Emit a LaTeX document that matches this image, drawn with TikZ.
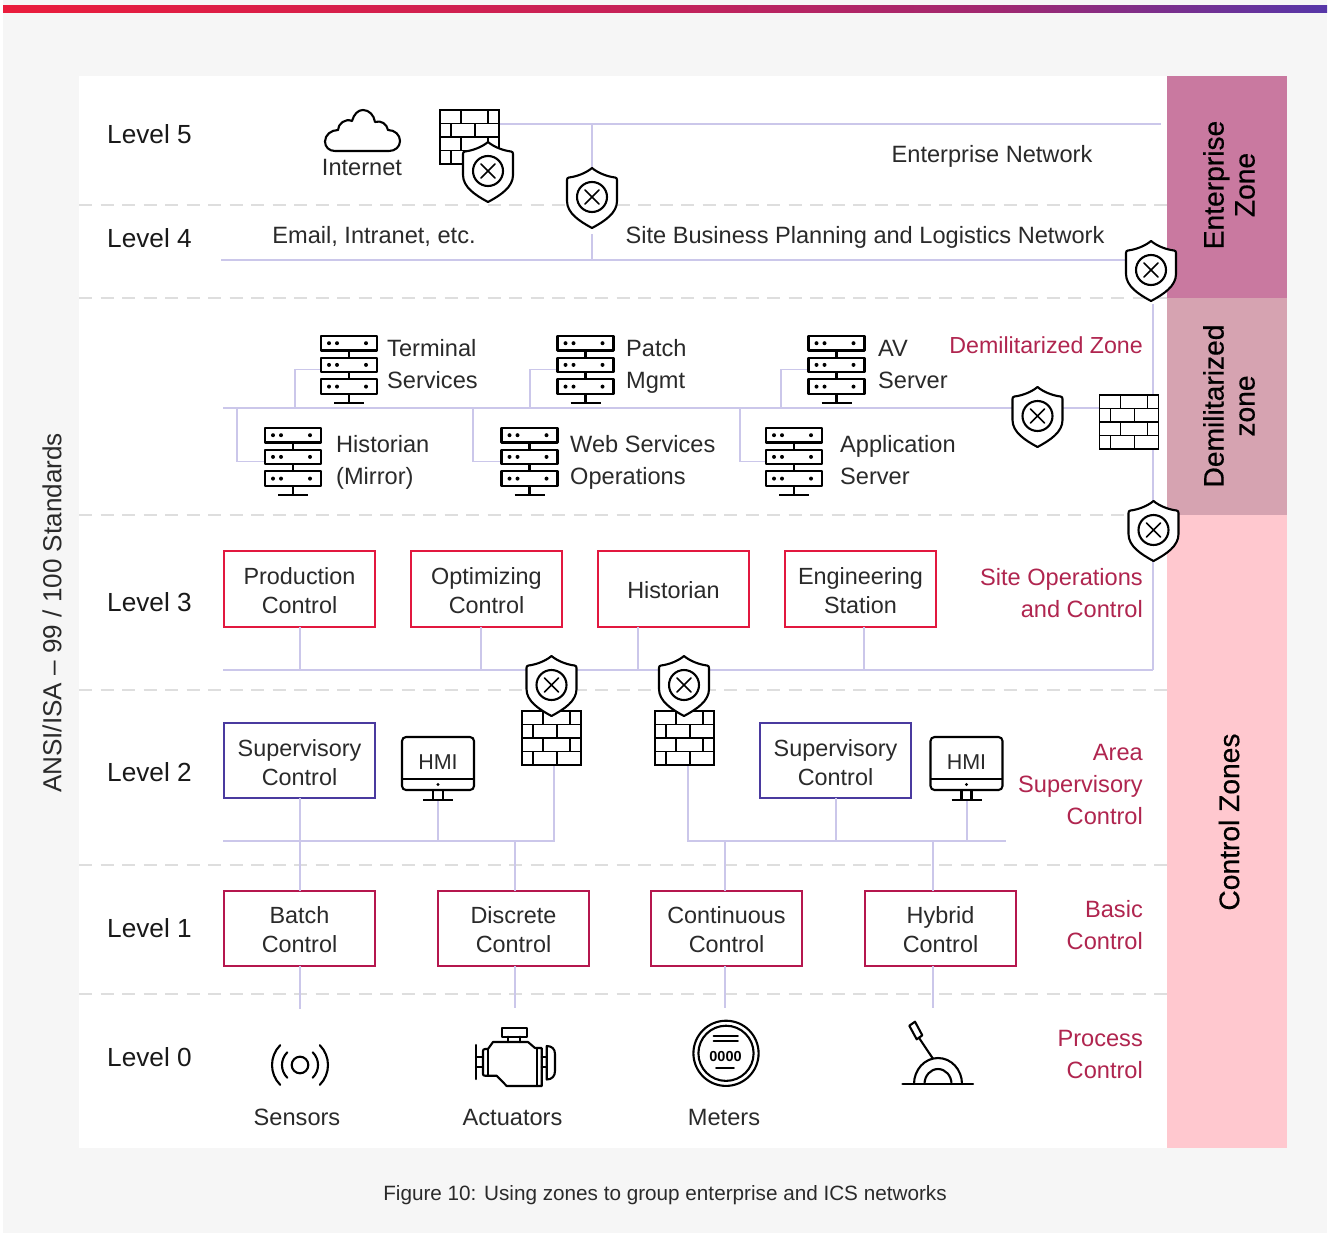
\documentclass[tikz,border=0pt]{standalone}
\usepackage{fontspec}
\setmainfont{Liberation Sans}
\usetikzlibrary{calc}
\definecolor{pagebg}{HTML}{F6F6F6}
\definecolor{netline}{HTML}{CBC7EA}
\definecolor{dashline}{HTML}{DEDEDE}
\definecolor{redbox}{HTML}{E2183F}
\definecolor{purplebox}{HTML}{4A3A9F}
\definecolor{magbox}{HTML}{B5174E}
\definecolor{redtext}{HTML}{B0254F}
\definecolor{inktext}{HTML}{2A2A2A}
\definecolor{zoneA}{HTML}{C979A0}
\definecolor{zoneB}{HTML}{D6A3B1}
\definecolor{zoneC}{HTML}{FFC8CF}
\definecolor{barA}{HTML}{EA1C3C}
\definecolor{barB}{HTML}{C4225A}
\definecolor{barC}{HTML}{A02870}
\definecolor{barD}{HTML}{5636A8}
\pgfdeclarehorizontalshading{topbar}{100bp}{color(0bp)=(barA);color(25bp)=(barA);color(50bp)=(barB);color(62.5bp)=(barC);color(75bp)=(barD);color(100bp)=(barD)}
\newcommand{\bodyfont}{\fontsize{23.6}{32}\selectfont}
\newcommand{\boxfont}{\fontsize{23.4}{29}\selectfont}
\newcommand{\lowerA}{\rule{0pt}{19.6pt}}
\newcommand{\lowerB}{\rule{0pt}{21pt}}
\tikzset{
  x=1pt,y=-1pt,
  net/.style={draw=netline,line width=1.4pt},
  zonedash/.style={draw=dashline,line width=1.4pt,dash pattern=on 13pt off 8.5pt},
  icon/.style={draw=black,fill=white,line width=2.1pt,line join=round},
  iconline/.style={draw=black,line width=2.1pt,line join=round,line cap=round},
  iconthin/.style={draw=black,line width=1.7pt,line join=round,line cap=round},
  wallstroke/.style={draw=black,line width=1.9pt},
  shieldslot/.style={inner sep=0pt,outer sep=0pt,minimum width=50pt,minimum height=60pt},
  wallslot/.style={inner sep=0pt,outer sep=0pt,minimum width=59pt,minimum height=54pt},
  serverslot/.style={inner sep=0pt,outer sep=0pt,minimum width=56pt,minimum height=67pt},
  hmislot/.style={inner sep=0pt,outer sep=0pt,minimum width=73pt,minimum height=63pt},
  ctlbox/.style={draw=#1,fill=white,line width=2pt,minimum width=151pt,minimum height=75pt,inner sep=0pt,align=center,font=\boxfont,text=inktext},
  levellabel/.style={anchor=west,inner sep=0pt,font=\fontsize{26.2}{30}\selectfont,text=black!90},
  plain/.style={inner sep=0pt,font=\bodyfont,text=inktext},
  plainleft/.style={plain,anchor=west,align=left},
  zonelabel/.style={inner sep=0pt,rotate=90,align=center,font=\fontsize{28.2}{31}\selectfont\addfontfeature{FakeBold=0.5},text=black},
  redlabel/.style={anchor=east,inner sep=0pt,align=right,font=\bodyfont,text=redtext},
  shieldicon/.pic={
    \path[icon] (0,-30) .. controls (-6,-25) and (-15,-21.5) .. (-23,-20.5)
      .. controls (-24.5,-20.3) and (-25,-19.5) .. (-25,-18) -- (-25,3)
      .. controls (-25,15) and (-13,23) .. (0,30)
      .. controls (13,23) and (25,15) .. (25,3) -- (25,-18)
      .. controls (25,-19.5) and (24.5,-20.3) .. (23,-20.5)
      .. controls (15,-21.5) and (6,-25) .. (0,-30) -- cycle;
    \draw[iconline] (0,-1) circle[radius=15];
    \draw[iconthin] (-7,-8) -- (7,6) (-7,6) -- (7,-8);
  },
  wallicon/.pic={
    \path[wallstroke,fill=white] (-29.5,-27) rectangle (29.5,27);
    \draw[wallstroke]
      (-29.5,-13.5) -- (29.5,-13.5) (-29.5,0) -- (29.5,0) (-29.5,13.5) -- (29.5,13.5)
      (-8.5,-27) -- (-8.5,-13.5) (18.5,-27) -- (18.5,-13.5)
      (-18.5,-13.5) -- (-18.5,0) (5.5,-13.5) -- (5.5,0)
      (-8.5,0) -- (-8.5,13.5) (18.5,0) -- (18.5,13.5)
      (-18.5,13.5) -- (-18.5,27) (5.5,13.5) -- (5.5,27);
  },
  servericon/.pic={
    \foreach \yy in {-33.5,-11.8,9.9}{
      \path[icon] (-28,\yy) rectangle (28,\yy+14.5);
      \fill[black] (-20,\yy+7.2) circle[radius=2] (-12,\yy+7.2) circle[radius=2] (17,\yy+7.2) circle[radius=2];
    }
    \draw[iconline,line cap=butt] (0,-19) -- (0,-11.8) (0,2.7) -- (0,9.9) (0,24.4) -- (0,33.5) (-15,33.5) -- (15,33.5);
  },
  hmiicon/.pic={
    \path[icon,rounded corners=4pt] (-36,-31) rectangle (36,22);
    \draw[iconline,line cap=butt] (-36,11) -- (36,11) (-5,22) -- (-5,32) (5,22) -- (5,32) (-15,32) -- (15,32);
    \fill[black] (0,16.5) circle[radius=1.7];
    \node[inner sep=0pt,font=\fontsize{21.5}{24}\selectfont,text=inktext] at (0,-6) {HMI};
  }
}
\begin{document}
\begin{tikzpicture}
\useasboundingbox (0,0) rectangle (1329,1236);
\fill[white] (0,0) rectangle (1329,1236);
\fill[pagebg] (3,0) rectangle (1327,1233);
\shade[shading=topbar] (3,6) rectangle (1327,13);
\fill[white] (79,76) rectangle (1167,1148);
\fill[zoneA] (1167,76) rectangle (1287,298);
\fill[zoneB] (1167,298) rectangle (1287,515);
\fill[zoneC] (1167,515) rectangle (1287,1148);
% dashed zone borders
\foreach \yy in {205,298,515,690,865,994}{
  \draw[zonedash] (79,\yy) -- (1167,\yy);
}
% icon slots
\node[wallslot] (wallA) at (469.5,137) {};
\node[shieldslot] (shA) at (488,172) {};
\node[shieldslot] (shB) at (592,198) {};
\node[shieldslot] (shC) at (1151,271) {};
\node[shieldslot] (shD) at (1037.5,417) {};
\node[wallslot] (wallB) at (1129,422) {};
\node[shieldslot] (shE) at (1153.5,531) {};
\node[shieldslot] (shF) at (551.5,686) {};
\node[shieldslot] (shG) at (684,686) {};
\node[wallslot] (wallC) at (551.5,738) {};
\node[wallslot] (wallD) at (684.5,738) {};
\node[serverslot] (srvT) at (349,369.5) {};
\node[serverslot] (srvH) at (293,461.5) {};
\node[serverslot] (srvP) at (585.5,369.5) {};
\node[serverslot] (srvW) at (529.5,461.5) {};
\node[serverslot] (srvV) at (836.5,369.5) {};
\node[serverslot] (srvA) at (794,461.5) {};
\node[hmislot] (hmiA) at (438,768) {};
\node[hmislot] (hmiB) at (966.5,768) {};
% control boxes
\node[ctlbox=redbox,minimum height=76pt] (prod) at (299.5,589) {\lowerA Production\\Control};
\node[ctlbox=redbox,minimum height=76pt] (opt) at (486.5,589) {\lowerA Optimizing\\Control};
\node[ctlbox=redbox,minimum height=76pt] (hist) at (673.5,589) {\lowerA Historian};
\node[ctlbox=redbox,minimum height=76pt] (eng) at (860.5,589) {\lowerA Engineering\\Station};
\node[ctlbox=purplebox] (supA) at (299.5,760.5) {\lowerB Supervisory\\Control};
\node[ctlbox=purplebox] (supB) at (835.5,760.5) {\lowerB Supervisory\\Control};
\node[ctlbox=magbox] (batch) at (299.5,928.5) {\lowerA Batch\\Control};
\node[ctlbox=magbox] (disc) at (513.5,928.5) {\lowerA Discrete\\Control};
\node[ctlbox=magbox] (cont) at (726.5,928.5) {\lowerA Continuous\\Control};
\node[ctlbox=magbox] (hyb) at (940.5,928.5) {\lowerA Hybrid\\Control};
% network end points
\coordinate (entEnd) at (1161,124);
\coordinate (entTap) at (592,124);
\coordinate (siteStart) at (221,260);
\coordinate (siteTap) at (592,260);
\coordinate (siteBelow) at (592,234);
\coordinate (dmzStart) at (223,408);
\coordinate (dmzRiserTop) at (1153,304);
\coordinate (lvlThreeStart) at (223,670);
\coordinate (lvlThreeEnd) at (1153,670);
\coordinate (lvlTwoStart) at (223,841);
\coordinate (lvlTwoEnd) at (1006,841);
% enterprise and site networks
\draw[net] (wallA.east |- entTap) -- (entEnd);
\draw[net] (entTap) -- (shB.north);
\draw[net] (siteBelow) -- (siteTap);
\draw[net] (siteStart) -- (shC.west |- siteStart);
% DMZ
\draw[net] (dmzStart) -- (shD.west |- dmzStart);
\draw[net] (shD.east |- dmzStart) -- (wallB.west |- dmzStart);
\draw[net] (295,408) |- (srvT.west);
\draw[net] (237,408) |- (srvH.west);
\draw[net] (530,408) |- (srvP.west);
\draw[net] (473,408) |- (srvW.west);
\draw[net] (781,408) |- (srvV.west);
\draw[net] (740,408) |- (srvA.west);
\draw[net] (dmzRiserTop) -- (lvlThreeEnd);
% level 3 bus
\draw[net] (lvlThreeStart) -- (lvlThreeEnd);
\draw[net] (300,627) -- (300,670);
\draw[net] (481,627) -- (481,670);
\draw[net] (638,627) -- (638,670);
\draw[net] (864,627) -- (864,670);
% level 2 bus
\draw[net] (lvlTwoStart) -- (554,841) -- (554,765);
\draw[net] (688,765) -- (688,841) -- (lvlTwoEnd);
\draw[net] (hmiA.south) -- (hmiA.south |- lvlTwoStart);
\draw[net] (967,799) -- (967,841);
\draw[net] (836,798) -- (836,841);
\draw[net] (300,798) -- (300,891);
\draw[net] (515,841) -- (515,891);
\draw[net] (725,841) -- (725,891);
\draw[net] (933,841) -- (933,891);
% level 1 to level 0
\draw[net] (300,966) -- (300,1009);
\draw[net] (515,966) -- (515,1008);
\draw[net] (725,966) -- (725,1008);
\draw[net] (933,966) -- (933,1008);
% icons
\pic at (wallA) {wallicon};
\pic at (shA) {shieldicon};
\pic at (shB) {shieldicon};
\pic at (shC) {shieldicon};
\pic at (shD) {shieldicon};
\pic at (wallB) {wallicon};
\pic at (shE) {shieldicon};
\pic at (wallC) {wallicon};
\pic at (wallD) {wallicon};
\pic at (shF) {shieldicon};
\pic at (shG) {shieldicon};
\pic at (srvT) {servericon};
\pic at (srvH) {servericon};
\pic at (srvP) {servericon};
\pic at (srvW) {servericon};
\pic at (srvV) {servericon};
\pic at (srvA) {servericon};
\pic at (hmiA) {hmiicon};
\pic at (hmiB) {hmiicon};
% cloud
\draw[iconline] (335,151) .. controls (329,151) and (325,147) .. (325,141.5)
  .. controls (325,135) and (331,130) .. (338,130)
  .. controls (338,124) and (345,118) .. (352,121)
  .. controls (354,114) and (358,110) .. (363,110)
  .. controls (369,110) and (374,115) .. (375,122)
  .. controls (381,120) and (387,124) .. (388,130)
  .. controls (395,130) and (400,135) .. (400,141)
  .. controls (400,147) and (395,151) .. (389,151) -- cycle;
% sensor
\draw[iconline] (300,1065) circle[radius=8.3];
\draw[iconline] (312.7,1052.3) .. controls (319.8,1059.3) and (319.8,1070.7) .. (312.7,1077.7);
\draw[iconline] (287.3,1052.3) .. controls (280.2,1059.3) and (280.2,1070.7) .. (287.3,1077.7);
\draw[iconline] (319.8,1045.2) .. controls (330.7,1056.1) and (330.7,1073.9) .. (319.8,1084.8);
\draw[iconline] (280.2,1045.2) .. controls (269.3,1056.1) and (269.3,1073.9) .. (280.2,1084.8);
% engine
\draw[iconline] (501.7,1027.7) rectangle (526.7,1036.7);
\draw[iconline] (508.3,1036.7) -- (508.3,1042) (520,1036.7) -- (520,1042);
\draw[iconline] (493,1042) -- (528,1042) -- (535,1048) -- (541.7,1048) -- (541.7,1086) -- (506.7,1086)
  -- (496.7,1075.7) -- (485,1075.7) .. controls (483.5,1075.7) and (483,1075) .. (483,1074)
  -- (483,1051) .. controls (483,1050) and (483.5,1049) .. (485,1049) -- (488,1049) -- cycle;
\draw[iconline] (488,1049) -- (488,1075.7) (537,1048) -- (537,1086);
\draw[iconline] (476,1045) -- (476,1079) (476,1056.7) -- (483,1056.7) (476,1066.7) -- (483,1066.7);
\draw[iconline] (541.7,1056.7) -- (546.7,1056.7) (541.7,1066.7) -- (546.7,1066.7);
\draw[iconline] (546.7,1046) .. controls (552,1046) and (555,1049) .. (555,1054) -- (555,1071)
  .. controls (555,1076) and (552,1079.5) .. (546.7,1079.5) -- cycle;
% meter
\draw[iconline] (726,1053.3) circle[radius=32.6];
\draw[iconline] (726,1053.3) circle[radius=27.6];
\draw[iconthin] (713.5,1036) -- (738,1036) (713.5,1040.7) -- (738,1040.7) (716,1068) -- (734,1068);
\node[inner sep=0pt,font=\fontsize{14.5}{16}\selectfont\bfseries,text=black] (meterdigits) at (725.5,1056) {0000};
% lever
\draw[iconline] (902.5,1084) -- (973,1084);
\draw[iconline] (914,1084) .. controls (914,1069.6) and (924.7,1058) .. (938,1058)
  .. controls (951.3,1058) and (962,1069.6) .. (962,1084);
\draw[iconline] (924.5,1084) .. controls (924.5,1075.7) and (930.5,1069) .. (938,1069)
  .. controls (945.5,1069) and (951.5,1075.7) .. (951.5,1084);
\draw[iconline] (909.3,1025.7) -- (915,1021.7) -- (922.3,1035.3) -- (916.7,1039.3) -- cycle;
\draw[iconline] (919.3,1038.3) -- (932.7,1058.3);
% level labels
\node[levellabel] (l5) at (107,134) {Level 5};
\node[levellabel] (l4) at (107,238) {Level 4};
\node[levellabel] (l3) at (107,602) {Level 3};
\node[levellabel] (l2) at (107,772) {Level 2};
\node[levellabel] (l1) at (107,928) {Level 1};
\node[levellabel] (l0) at (107,1057) {Level 0};
% texts
\node[plain] (tInternet) at (362,167) {Internet};
\node[plain] (tEnt) at (992,156) {Enterprise Network};
\node[plain] (tEmail) at (374,236) {Email, Intranet, etc.};
\node[plain] (tSite) at (865,237) {Site Business Planning and Logistics Network};
\node[plainleft] (tTerm) at (387,364) {Terminal\\Services};
\node[plainleft] (tPatch) at (626,366) {Patch\\Mgmt};
\node[plainleft] (tAV) at (878,364) {AV\\Server};
\node[plainleft] (tHist) at (336,462) {Historian\\(Mirror)};
\node[plainleft] (tWeb) at (570,462) {Web Services\\Operations};
\node[plainleft] (tApp) at (840,460) {Application\\Server};
\node[redlabel,font=\fontsize{23.2}{32}\selectfont] (rDmz) at (1143,345) {Demilitarized Zone};
\node[redlabel] (rSite) at (1143,593) {Site Operations\\and Control};
\node[redlabel] (rArea) at (1143,784) {Area\\Supervisory\\Control};
\node[redlabel] (rBasic) at (1143,925) {Basic\\Control};
\node[redlabel] (rProc) at (1143,1054) {Process\\Control};
\node[plain] (tSens) at (297,1117) {Sensors};
\node[plain] (tAct) at (512.5,1117) {Actuators};
\node[plain] (tMet) at (724,1117) {Meters};
\node[plain,rotate=90,font=\fontsize{26.1}{30}\selectfont] (tStd) at (52,613) {ANSI/ISA – 99 / 100 Standards};
\node[zonelabel] (zEnt) at (1229,185) {Enterprise\\Zone};
\node[zonelabel] (zDmz) at (1229,406) {Demilitarized\\zone};
\node[zonelabel] (zCtl) at (1229,822) {Control Zones};
\node[inner sep=0pt,font=\fontsize{20.7}{26}\selectfont,text=inktext] (cap) at (665,1195) {Figure 10: Using zones to group enterprise and ICS networks};
\end{tikzpicture}
\end{document}
